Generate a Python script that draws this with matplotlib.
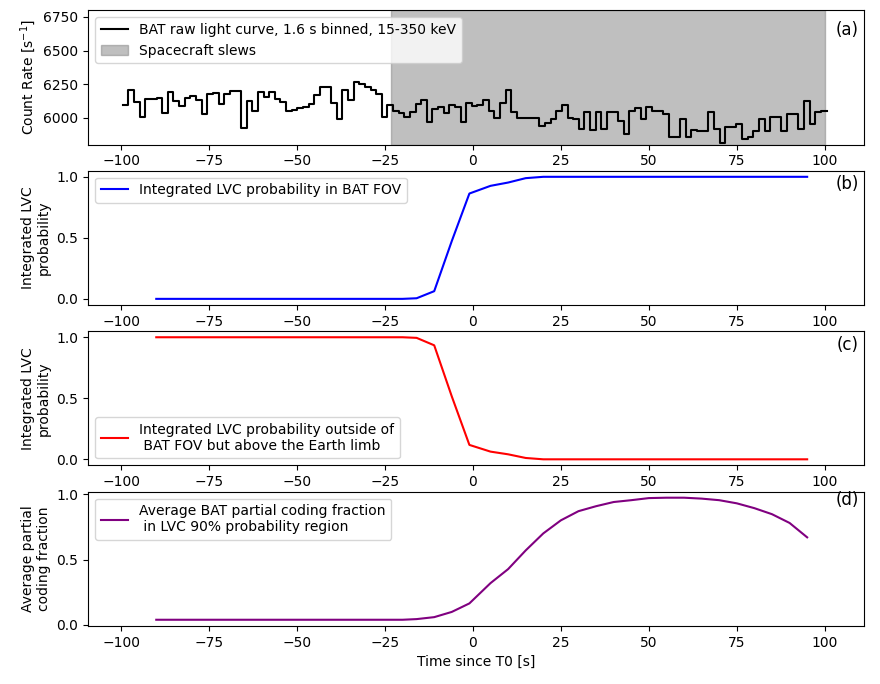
import numpy as np
import matplotlib
matplotlib.use("Agg")
import matplotlib.pyplot as plt

# BAT raw light curve, 1.6 s bins (counts / s)
bin_width = 1.6
t_start = -99.5
rate = [6095, 6207, 6115, 6003, 6140, 6140, 6145, 6032, 6190, 6123,
        6090, 6148, 6165, 6132, 6028, 6178, 6185, 6102, 6178, 6195,
        6195, 5920, 6127, 6053, 6190, 6153, 6190, 6140, 6115, 6047,
        6058, 6070, 6082, 6102, 6170, 6232, 6232, 6107, 5990, 6207,
        6128, 6265, 6253, 6232, 6203, 6178, 6003, 6095, 6053, 6032,
        6008, 6040, 6102, 6128, 5965, 6065, 6078, 6032, 6098, 6078,
        5965, 6108, 6090, 6095, 6132, 6053, 6000, 6108, 6207, 6040,
        6000, 6000, 6000, 6000, 5940, 5958, 5990, 6053, 6095, 6000,
        5990, 5915, 6045, 5910, 6045, 5915, 6045, 6045, 5975, 5878,
        6053, 6070, 5990, 6078, 6047, 6047, 6028, 5857, 5857, 5990,
        5857, 5907, 5902, 5902, 6040, 5915, 5815, 5932, 5932, 5952,
        5840, 5857, 5902, 5990, 5902, 6007, 6003, 5902, 6028, 6028,
        5915, 6122, 5952, 6040, 6053]
slew_start, slew_end = -23.2, 100.0

# LVC probability / coding fraction time grid
t_lvc = [-90, -85, -80, -75, -70, -65, -60, -55, -50, -45, -40, -35, -30,
         -25, -20, -16, -11, -6, -1, 5, 10, 15, 20, 25, 30, 35, 40, 45, 50,
         55, 60, 65, 70, 75, 80, 85, 90, 95]
prob_in_fov = [0, 0, 0, 0, 0, 0, 0, 0, 0, 0, 0, 0, 0,
               0, 0, 0.005, 0.063, 0.474, 0.863, 0.926, 0.953, 0.989, 1.0, 1.0, 1.0, 1.0, 1.0, 1.0, 1.0,
               1.0, 1.0, 1.0, 1.0, 1.0, 1.0, 1.0, 1.0, 1.0]
prob_out_fov = [1, 1, 1, 1, 1, 1, 1, 1, 1, 1, 1, 1, 1,
                1, 1, 0.995, 0.934, 0.515, 0.118, 0.063, 0.041, 0.011, 0.0, 0.0, 0.0, 0.0, 0.0, 0.0, 0.0,
                0.0, 0.0, 0.0, 0.0, 0.0, 0.0, 0.0, 0.0, 0.0]
pcode = [0.04, 0.04, 0.04, 0.04, 0.04, 0.04, 0.04, 0.04, 0.04, 0.04, 0.04, 0.04, 0.04,
         0.04, 0.04, 0.045, 0.06, 0.10, 0.165, 0.32, 0.427, 0.57, 0.70, 0.80, 0.87, 0.908, 0.94, 0.954, 0.97,
         0.973, 0.973, 0.966, 0.954, 0.93, 0.893, 0.847, 0.78, 0.67]

edges = t_start + bin_width * np.arange(len(rate) + 1)
rate_step = np.append(rate, rate[-1])

fig, axes = plt.subplots(4, 1, figsize=(8.8, 6.84))
fig.subplots_adjust(left=0.1, right=0.982, top=0.985, bottom=0.085, hspace=0.195)
ax1, ax2, ax3, ax4 = axes

ax1.step(edges, rate_step, where='post', color='black',
         label='BAT raw light curve, 1.6 s binned, 15-350 keV')
ax1.axvspan(slew_start, slew_end, color='gray', alpha=0.5, label='Spacecraft slews')
ax1.set_ylim(5800, 6800)
ax1.set_yticks([6000, 6250, 6500, 6750])
ax1.set_ylabel('Count Rate [s$^{-1}$]')
ax1.legend(loc='upper left')

ax2.plot(t_lvc, prob_in_fov, color='blue', label='Integrated LVC probability in BAT FOV')
ax2.set_ylabel('Integrated LVC\nprobability')
ax2.legend(loc='upper left')

ax3.plot(t_lvc, prob_out_fov, color='red',
         label='Integrated LVC probability outside of\n BAT FOV but above the Earth limb')
ax3.set_ylabel('Integrated LVC\nprobability')
ax3.legend(loc='lower left')

ax4.plot(t_lvc, pcode, color='purple',
         label='Average BAT partial coding fraction\n in LVC 90% probability region')
ax4.set_ylabel('Average partial\ncoding fraction')
ax4.set_xlabel('Time since T0 [s]')
ax4.legend(loc='upper left')

panel_y = [0.85, 0.9, 0.9, 0.94]
for ax, lab, py in zip(axes, ['(a)', '(b)', '(c)', '(d)'], panel_y):
    ax.set_xlim(-109.4, 111.2)
    ax.text(0.993, py, lab, transform=ax.transAxes, ha='right', va='center', fontsize=12)

for ax in (ax2, ax3, ax4):
    ax.set_yticks([0.0, 0.5, 1.0])

plt.savefig("out.png", dpi=100)
